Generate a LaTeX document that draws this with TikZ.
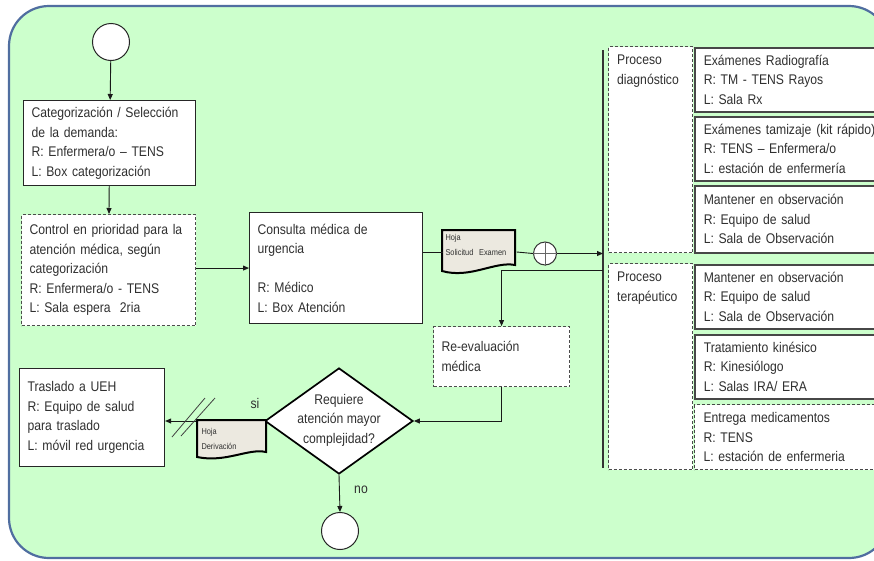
\documentclass[tikz,border=0pt]{standalone}
\usepackage{fontspec}
\setmainfont{Liberation Sans}[FakeStretch=0.87]
\usetikzlibrary{arrows.meta,shapes.geometric}

\definecolor{panelfill}{RGB}{204,255,204}
\definecolor{panelline}{RGB}{80,110,160}
\definecolor{docfill}{RGB}{236,233,224}
\definecolor{txt}{RGB}{48,48,48}

\begin{document}
\begin{tikzpicture}[x=1pt,y=-1pt,
  every node/.style={font=\fontsize{14}{19.5}\selectfont, text=txt},
  box/.style={draw=black!85, line width=1.1pt, fill=white, anchor=north west,
    align=left, inner xsep=8pt, inner ysep=0pt},
  dbox/.style={box, draw=black!70, dash pattern=on 3pt off 2pt},
  sidebox/.style={box, draw=black!72, line width=1.5pt, inner xsep=9pt,
    minimum width=200pt, text width=182pt},
  dsidebox/.style={sidebox, line width=1.1pt, dash pattern=on 3pt off 2pt},
  groupbox/.style={dbox, minimum width=84pt, minimum height=206pt},
  grouptext/.style={anchor=north west, align=left, inner xsep=9pt, inner ysep=9pt},
  terminal/.style={circle, draw=black!85, fill=white, line width=1pt,
    minimum size=37pt, inner sep=0pt},
  docshape/.style={draw=black, line width=2pt, fill=docfill},
  doctext/.style={font=\fontsize{8.5}{15}\selectfont, align=left, inner sep=0pt},
  ln/.style={line width=0.9pt, draw=black!90},
  arr/.style={ln, -{Triangle[length=6pt,width=5pt]}},
  slash/.style={line width=0.8pt, draw=black!75}
]
\clip (0,0) rectangle (874,560);

% background panel
\draw[fill=panelfill, draw=panelline, line width=2.2pt, rounded corners=40pt]
  (9,6) rectangle (889,558);

% main flow
\node[terminal] (start) at (111,42) {};
\node[box, minimum width=172pt, minimum height=85pt, text width=156pt] (b1) at (23,100)
  {Categorización / Selección\\de la demanda:\\R: Enfermera/o – TENS\\L: Box categorización};
\node[dbox, minimum width=174pt, minimum height=111pt, text width=158pt] (b2) at (21,214)
  {Control en prioridad para la\\atención médica, según\\categorización\\R: Enfermera/o - TENS\\L: Sala espera\ \ 2ria};
\node[box, minimum width=173pt, minimum height=111pt, text width=157pt] (b3) at (249,212)
  {Consulta médica de\\urgencia\\\mbox{}\\R: Médico\\L: Box Atención};

% exam request sheet
\draw[docshape] (442,230) -- (515,230) -- (515,265)
  .. controls (495,261) and (470,279) .. (442,271) -- cycle;
\node[doctext, minimum width=73pt, minimum height=42pt, text width=69pt] (hs) at (480,252)
  {Hoja\\Solicitud\ \ Examen\\\mbox{}};

\node[circle, draw=black!80, fill=white, line width=1pt, minimum size=23pt, inner sep=0pt] (pl) at (545,253.5) {};
\draw[line width=0.8pt, draw=black!60] (pl.north) -- (pl.south) (pl.west) -- (pl.east);

\node[dbox, minimum width=136pt, minimum height=60pt, text width=120pt] (re) at (433,326)
  {Re-evaluación\\médica};

\node[diamond, draw=black, fill=white, line width=1.7pt, minimum width=148pt,
  minimum height=106pt, inner sep=0pt] (dm) at (339,421) {};
\node[align=center] (dmt) at (339,420) {Requiere\\atención mayor\\complejidad?};

\node[box, minimum width=145pt, minimum height=98pt, text width=129pt] (tr) at (19,368)
  {Traslado a UEH\\R: Equipo de salud\\para traslado\\L: móvil red urgencia};

\node[terminal] (end) at (340,531) {};

% right-hand processes
\coordinate (brtop) at (603,50);
\coordinate (brbot) at (603,468);
\draw[line width=2pt, draw=black!80] (brtop) -- (brbot);

\node[groupbox] (gd) at (608,46) {};
\node[grouptext] (gdt) at (gd.north west) {Proceso\\diagnóstico};
\node[sidebox, minimum height=64pt] (r1) at (694,47)
  {Exámenes Radiografía\\R: TM - TENS Rayos\\L: Sala Rx};
\node[sidebox, minimum height=64pt] (r2) at (694,116)
  {Exámenes tamizaje\hspace{5pt}(kit rápido)\\R: TENS – Enfermera/o\\L: estación de enfermería};
\node[sidebox, minimum height=67pt] (r3) at (694,185)
  {Mantener en observación\\R: Equipo de salud\\L: Sala de Observación};

\node[groupbox] (gt) at (608,263) {};
\node[grouptext] (gtt) at (gt.north west) {Proceso\\terapéutico};
\node[sidebox, minimum height=64pt] (r4) at (694,264)
  {Mantener en observación\\R: Equipo de salud\\L: Sala de Observación};
\node[sidebox, minimum height=64pt] (r5) at (694,334)
  {Tratamiento kinésico\\R: Kinesiólogo\\L: Salas IRA/ ERA};
\node[dsidebox, minimum height=65pt] (r6) at (694,404)
  {Entrega medicamentos\\R: TENS\\L: estación de enfermeria};

% connectors
\draw[arr] (start) -- (b1);
\draw[arr] (b1) -- (b2);
\draw[arr] (b3.west -| b2.east) -- (b3.west);
\draw[ln] (b3.east |- hs.west) -- (hs.west);
\draw[ln] (hs.east) -- (pl.west);
\draw[arr] (pl.east) -- (pl.east -| brtop);
\coordinate (ret) at (603,270);
\draw[arr] (ret) -| (re.north);
\draw[arr] (re.south) |- (dm.east);
\draw[arr] (dm.west) -- (tr.east |- dm.west);
\draw[arr] (dm.south) -- (end.north);

% referral sheet on the "si" branch
\draw[docshape] (197,420) -- (266,420) -- (266,452)
  .. controls (248,448) and (226,463) .. (197,457) -- cycle;
\node[doctext, minimum width=69pt, minimum height=37pt, text width=63pt] (hd) at (233,438.5)
  {Hoja\\Derivación};
\draw[slash] (172,437) -- (205,398);
\draw[slash] (181,436) -- (215,398);

\node (si) at (255,403) {si};
\node (no) at (361,490) {no};
\end{tikzpicture}
\end{document}
